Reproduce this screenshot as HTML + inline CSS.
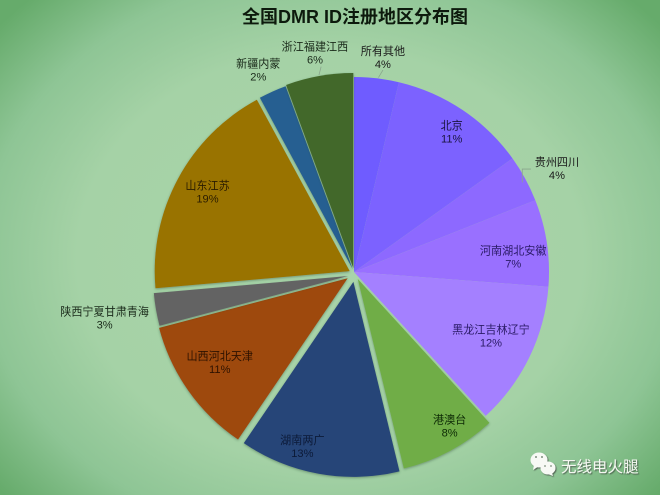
<!DOCTYPE html>
<html lang="zh">
<head>
<meta charset="utf-8">
<title>全国DMR ID注册地区分布图</title>
<style>
html,body{margin:0;padding:0;width:660px;height:495px;overflow:hidden;}
#chart-card{position:relative;width:660px;height:495px;overflow:hidden;background:radial-gradient(ellipse 66% 72% at 50% 52%,#a9d5aa 0%,#a5d2a6 58%,#8ec595 80%,#66ab6b 100%);}
svg{position:absolute;left:0;top:0;}
text{font-family:"Liberation Sans","Noto Sans CJK SC",sans-serif;}
</style>
</head>
<body>
<div id="chart-card">
<svg id="pie-svg" width="660" height="495" viewBox="0 0 660 495" xmlns="http://www.w3.org/2000/svg">
  <defs>
    <filter id="slice-shadow" x="-20%" y="-20%" width="140%" height="140%">
      <feDropShadow dx="0" dy="1" stdDeviation="1.2" flood-color="#2c4a30" flood-opacity="0.45"/>
    </filter>
    <filter id="mark-shadow" x="-20%" y="-30%" width="140%" height="160%">
      <feDropShadow dx="1" dy="1" stdDeviation="0.6" flood-color="#333333" flood-opacity="0.7"/>
    </filter>
  </defs>
  <text x="355" y="23" text-anchor="middle" font-size="18" font-weight="700" fill="#0d1a0d">全国DMR ID注册地区分布图</text>
  <g id="slices"></g>
  <g id="leaders"></g>
  <g id="labels"></g>
  <g filter="url(#mark-shadow)">
    <g>
      <ellipse cx="539" cy="460" rx="8.5" ry="7.5" fill="#f7f9f5"/>
      <path d="M534 465 L533 470 L539 466 Z" fill="#f7f9f5"/>
      <ellipse cx="548" cy="468" rx="7.5" ry="6.5" fill="#f7f9f5"/>
      <path d="M552 473 L553 476 L548 474 Z" fill="#f7f9f5"/>
      <circle cx="536" cy="457" r="1" fill="#7d8f7d"/>
      <circle cx="542" cy="457" r="1" fill="#7d8f7d"/>
      <circle cx="545" cy="466" r="0.9" fill="#7d8f7d"/>
      <circle cx="551" cy="466" r="0.9" fill="#7d8f7d"/>
    </g>
    <text x="561" y="472" font-size="15.5" fill="#f4f7f1">无线电火腿</text>
  </g>
</svg>
</div>
<script>
const categories = ["所有其他","北京","贵州四川","河南湖北安徽","黑龙江吉林辽宁","港澳台","湖南两广","山西河北天津","陕西宁夏甘肃青海","山东江苏","新疆内蒙","浙江福建江西"];
const shareValues = [3.7,11.4,3.9,7.2,12.0,8.0,13.3,11.4,2.7,18.5,2.3,5.6];

const NS = "http://www.w3.org/2000/svg";
const CX = 354, CY = 272, R = 195;
const totalShare = shareValues.reduce(function(a,b){return a+b;},0);

function angleOf(cumulative){ return cumulative / totalShare * 360; }
function polar(cx, cy, r, deg){
  const a = deg * Math.PI / 180;
  return [cx + r * Math.sin(a), cy - r * Math.cos(a)];
}

function draw(){
  const colors = ["#6f5cff","#7c62ff","#8d69ff","#9970ff","#a480ff","#70ad47","#264478","#9e480e","#636363","#997300","#255e91","#43682b"];
  const explode = [0,0,0,0,0,8,9,9,6,6,3,4];
  const nudgeX = [0,0,0,0,0,0,1,1,0,1,0,0];
  const nudgeY = [0,0,0,0,0,0,1,1,3,2,0,0];
  const labelDist = [217,171,228,160,151,173,172,153,247,163,221,219];
  const labelTurn = [1,1,1.5,3,-1,-4,7,2,0.2,1,-1,0];
  const leaderFlag = [1,0,2,0,0,0,0,0,0,0,0,1];
  const darkText = ["#1a1a1a","#1a1440","#1a1a1a","#2a1a66","#2a1a66","#0d2a05","#0c1a38","#2e1200","#1a2a1a","#2a1c00","#1a2a1a","#1a2a1a"];

  const sliceGroup = document.getElementById("slices");
  const labelGroup = document.getElementById("labels");
  const leaderGroup = document.getElementById("leaders");
  let cum = 0;

  shareValues.forEach(function(v, i){
    const a0 = angleOf(cum);
    const a1 = angleOf(cum + v);
    const mid = (a0 + a1) / 2;
    cum += v;
    const c = polar(CX + nudgeX[i], CY + nudgeY[i], explode[i], mid);
    const p0 = polar(c[0], c[1], R, a0);
    const p1 = polar(c[0], c[1], R, a1);
    const large = (a1 - a0) > 180 ? 1 : 0;

    const path = document.createElementNS(NS, "path");
    path.setAttribute("d", "M" + c[0] + " " + c[1] + " L" + p0[0] + " " + p0[1] + " A" + R + " " + R + " 0 " + large + " 1 " + p1[0] + " " + p1[1] + " Z");
    path.setAttribute("fill", colors[i]);
    if (explode[i] > 0) path.setAttribute("filter", "url(#slice-shadow)");
    
    
    sliceGroup.appendChild(path);

    const lp = polar(c[0], c[1], labelDist[i], mid + labelTurn[i]);

    if (leaderFlag[i] > 0) {
      const edge = polar(c[0], c[1], R + 1, mid + labelTurn[i] * 0.5);
      const line = document.createElementNS(NS, "polyline");
      let pts;
      if (leaderFlag[i] === 2) {
        pts = [edge[0] - 5, edge[1] + 2, edge[0] - 5, lp[1] + 1, lp[0] - 26, lp[1] + 1];
      } else {
        const tip = polar(c[0], c[1], R + 9, mid + labelTurn[i] * 0.5 + 1);
        pts = [edge[0], edge[1], tip[0], tip[1]];
      }
      line.setAttribute("points", pts.join(" "));
      line.setAttribute("fill", "none");
      line.setAttribute("stroke", "#8aa58c");
      line.setAttribute("stroke-width", "0.8");
      
      
      leaderGroup.appendChild(line);
    }

    const name = document.createElementNS(NS, "text");
    name.setAttribute("x", lp[0]);
    name.setAttribute("y", lp[1] - 2);
    name.setAttribute("text-anchor", "middle");
    name.setAttribute("font-size", "11.1");
    name.setAttribute("fill", darkText[i]);
    name.textContent = categories[i];
    
    
    labelGroup.appendChild(name);

    const pct = document.createElementNS(NS, "text");
    pct.setAttribute("x", lp[0]);
    pct.setAttribute("y", lp[1] + 11);
    pct.setAttribute("text-anchor", "middle");
    pct.setAttribute("font-size", "11.1");
    pct.setAttribute("fill", darkText[i]);
    pct.textContent = Math.round(v / totalShare * 100) + "%";
    
    
    labelGroup.appendChild(pct);
  });
}
draw();
</script>
</body>
</html>
